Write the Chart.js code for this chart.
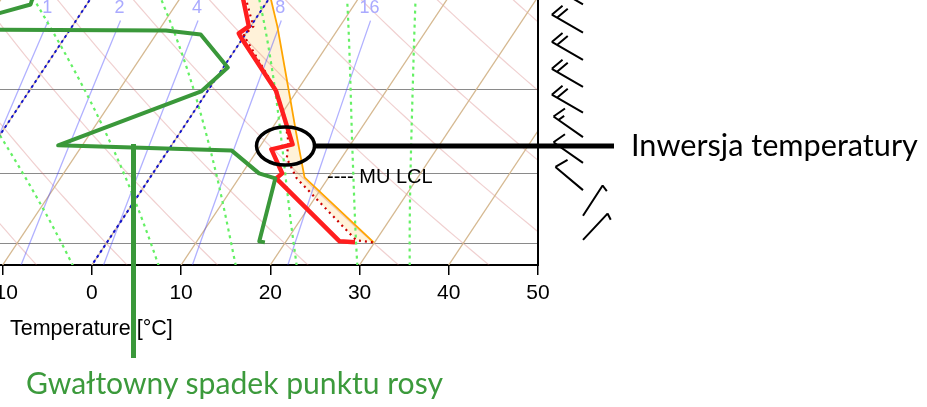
<!DOCTYPE html>
<html lang="pl">
<head>
<meta charset="utf-8">
<title>Skew-T</title>
<script src="https://cdn.jsdelivr.net/npm/chart.js@4/dist/chart.umd.min.js"></script>
<style>
html,body{margin:0;padding:0;background:#ffffff;}
body{width:927px;height:407px;overflow:hidden;position:relative;}
#c{position:absolute;left:0;top:0;}
.note{position:absolute;white-space:nowrap;font-family:'Lato','Open Sans',sans-serif;line-height:1;margin:0;padding:0;}
#inv{color:#000000;}
#dew{color:#3c9a3c;}
</style>
</head>
<body>
<canvas id="c" width="927" height="407"></canvas>
<div class="note" id="inv">Inwersja temperatury</div>
<div class="note" id="dew">Gwałtowny spadek punktu rosy</div>
<script>
// ===================== DATA =====================
const xTickLabels = [-10, 0, 10, 20, 30, 40, 50];          // °C
const isobarLevels = [1000, 850, 700];                      // hPa
const isothermValues = [-30, -20, -10, 0, 10, 20, 30, 40];  // °C
const highlightedIsotherms = [-20, 0];                      // °C
const dryAdiabatTheta = [-10, 0, 10, 20, 30, 40, 50, 60, 70, 80]; // θ in °C
const moistAdiabatThetaW = [-5, 5, 14, 21, 28, 34];         // θw in °C
const mixingRatioValues = [1, 2, 4, 8, 16];                 // g/kg
const mixingRatioLabels = ['1', '2', '4', '8', '16'];

// environmental temperature
const tempPressure = [997.7, 995.4, 860.3, 850.4, 804.4, 795.2, 701.8, 619.3, 615.0, 605.1, 565.0];
const tempValue    = [27.8, 26.0, 14.2, 14.5, 11.5, 13.5, 7.6, -0.4, -0.8, -0.2, -3.1];
// dew point
const dewPressure  = [997.7, 995.4, 860.3, 850.4, 806.3, 797.0, 703.4, 665.4, 616.4, 610.7, 609.3, 575.1, 565.0];
const dewValue     = [17.7, 17.0, 14.1, 11.9, 7.1, -12.7, -0.7, 0.5, -5.0, -9.2, -34.4, -26.3, -26.6];
// environmental virtual temperature (dotted)
const virtPressure = [997.7, 993.1, 860.3, 821.4, 789.7, 741.8, 703.4, 617.8, 605.1, 565.0];
const virtValue    = [29.8, 27.8, 16.5, 13.9, 12.8, 10.3, 7.8, -0.1, 0.3, -2.8];
// most-unstable parcel
const parcelPressure = [997.7, 858.3, 771.6, 714.9, 605.1, 565.0];
const parcelValue    = [29.9, 17.3, 12.9, 9.8, 3.0, 0.0];
const muLclPressure = 858.3;
const inversionPressure = 800;

// winds (direction in degrees, speed in kt)
const windPressure  = [992, 938, 884, 830, 782, 739, 696, 654, 614, 575];
const windDirection = [43, 33, 310, 305, 305, 300, 300, 300, 300, 300];
const windSpeed     = [5, 5, 10, 10, 15, 20, 20, 20, 20, 20];

// ===================== DIAGRAM GEOMETRY =====================
const P_TOP = 569.2, P_BOT = 1051.4, SKEW = 32.2, X_MIN = -10.3, X_MAX = 50;
const skewX = (t, p) => t + SKEW * Math.log(P_BOT / p);
const profile = (ps, ts) => ps.map((p, i) => ({x: skewX(ts[i], p), y: p}));
function pLevels(pHigh, pLow, n) {
  const a = [];
  for (let i = 0; i <= n; i++) a.push(pHigh * Math.pow(pLow / pHigh, i / n));
  return a;
}
function dryAdiabat(theta) {
  return pLevels(1070, 550, 40).map(p => ({x: skewX((theta + 273.15) * Math.pow(p / 1000, 0.2857) - 273.15, p), y: p}));
}
// Wobus function / saturated-adiabat lifting (classic skew-T formulation)
function wobf(t) {
  const x = t - 20;
  if (x <= 0) {
    const pol = 1 + x * (-8.8416605e-03 + x * (1.4714143e-04 + x * (-9.6719890e-07 + x * (-3.2607217e-08 + x * (-3.8598073e-10)))));
    return 15.130 / Math.pow(pol, 4);
  }
  const pol = 1 + x * (3.6182989e-03 + x * (-1.3603273e-05 + x * (4.9618922e-07 + x * (-6.1059365e-09 + x * (3.9401551e-11 + x * (-1.2588129e-13 + x * (1.6688280e-16)))))));
  return 29.930 / Math.pow(pol, 4) + 0.96 * x - 14.8;
}
function satlft(thw, p) {
  if (Math.abs(p - 1000) < 1e-9) return thw;
  const cta = 273.15, akap = 0.28541;
  const pwrp = Math.pow(p / 1000, akap);
  let tone = (thw + cta) * pwrp - cta;
  let eone = wobf(tone) - wobf(thw);
  let rate = 1, ttwo = tone, dlt = 0;
  for (let k = 0; k < 60; k++) {
    ttwo = tone - eone * rate;
    const pt = (ttwo + cta) / pwrp - cta;
    const etwo = pt + wobf(ttwo) - wobf(pt) - thw;
    dlt = etwo * rate;
    if (Math.abs(dlt) < 0.001) break;
    const den = etwo - eone;
    if (den === 0) break;
    rate = (ttwo - tone) / den;
    tone = ttwo; eone = etwo;
  }
  return ttwo - dlt;
}
function moistAdiabat(thw) {
  return pLevels(1070, 545, 40).map(p => ({x: skewX(satlft(thw, p), p), y: p}));
}
function mixTemp(w, p) {
  const e = w * p / (622 + w);
  const l = Math.log(e / 6.112);
  return 243.5 * l / (17.67 - l);
}
const MIX_TOP = 597;
function mixingLine(w) {
  return pLevels(1070, MIX_TOP, 12).map(p => ({x: skewX(mixTemp(w, p), p), y: p}));
}
function isotherm(t) {
  return [{x: skewX(t, 1070), y: 1070}, {x: skewX(t, 540), y: 540}];
}

const line = (data, color, width, dash, extra) => Object.assign({
  data, showLine: true, borderColor: color, borderWidth: width, borderDash: dash || [],
  pointRadius: 0, pointHoverRadius: 0, fill: false, tension: 0,
  borderJoinStyle: 'round', borderCapStyle: 'butt'
}, extra || {});

const GREEN = 'rgb(58,152,58)';
const datasets = [
  line(profile(dewPressure, dewValue), GREEN, 4),
  line(profile(tempPressure, tempValue), 'rgb(255,30,30)', 4.5),
  line(profile(virtPressure, virtValue), 'rgb(205,0,0)', 2.2, [2, 4]),
  line(profile(parcelPressure, parcelValue), 'rgb(255,165,0)', 1.8),
  ...highlightedIsotherms.map(t => line(isotherm(t), 'rgb(20,20,205)', 2, [3, 3])),
  ...moistAdiabatThetaW.map(t => line(moistAdiabat(t), 'rgb(100,240,100)', 2.2, [3, 4])),
  ...mixingRatioValues.map(w => line(mixingLine(w), 'rgba(60,60,255,0.4)', 1.3)),
  ...isothermValues.map(t => line(isotherm(t), 'rgb(214,185,145)', 1.3)),
  ...dryAdiabatTheta.map(th => line(dryAdiabat(th), 'rgba(205,100,100,0.3)', 1.2))
];

function drawBarb(ctx, bx, by, dir, spd) {
  const L = 36, full = 14, sp = 6;
  const r = dir * Math.PI / 180;
  const ux = Math.sin(r), uy = -Math.cos(r);
  const tx = bx + ux * L, ty = by + uy * L;
  const a = 110 * Math.PI / 180;
  const fx = ux * Math.cos(a) - uy * Math.sin(a);
  const fy = ux * Math.sin(a) + uy * Math.cos(a);
  ctx.beginPath();
  ctx.moveTo(bx, by); ctx.lineTo(tx, ty);
  const s = Math.round(spd / 5) * 5;
  const nFull = Math.floor(s / 10), half = (s % 10) >= 5;
  let pos = 0;
  for (let i = 0; i < nFull; i++) {
    const px = tx - ux * pos, py = ty - uy * pos;
    ctx.moveTo(px, py); ctx.lineTo(px + fx * full, py + fy * full);
    pos += sp;
  }
  if (half) {
    const px = tx - ux * pos, py = ty - uy * pos;
    ctx.moveTo(px, py); ctx.lineTo(px + fx * full * 0.5, py + fy * full * 0.5);
  }
  ctx.stroke();
}

const overlay = {
  id: 'overlay',
  beforeDatasetsDraw(chart) {
    const {ctx, chartArea: a, scales: {x, y}} = chart;
    const par = profile(parcelPressure, parcelValue);
    const env = profile(virtPressure, virtValue);
    ctx.save();
    ctx.beginPath(); ctx.rect(a.left, a.top, a.right - a.left, a.bottom - a.top); ctx.clip();
    ctx.beginPath();
    par.forEach((pt, i) => { const X = x.getPixelForValue(pt.x), Y = y.getPixelForValue(pt.y); i ? ctx.lineTo(X, Y) : ctx.moveTo(X, Y); });
    env.slice().reverse().forEach(pt => ctx.lineTo(x.getPixelForValue(pt.x), y.getPixelForValue(pt.y)));
    ctx.closePath();
    ctx.fillStyle = 'rgba(255,165,0,0.15)';
    ctx.fill();
    ctx.restore();
  },
  afterDraw(chart) {
    const {ctx, chartArea: a, scales: {x, y}} = chart;
    ctx.save();
    // right frame
    ctx.strokeStyle = '#000'; ctx.lineWidth = 2;
    ctx.beginPath(); ctx.moveTo(a.right, a.top); ctx.lineTo(a.right, a.bottom + 1); ctx.stroke();
    // mixing ratio labels
    ctx.fillStyle = 'rgb(170,170,255)';
    ctx.font = '18px "Liberation Sans", Arial, sans-serif';
    ctx.textAlign = 'center'; ctx.textBaseline = 'alphabetic';
    mixingRatioValues.forEach((w, i) => {
      const X = x.getPixelForValue(skewX(mixTemp(w, MIX_TOP), MIX_TOP));
      ctx.fillText(mixingRatioLabels[i], X - 1, 13);
    });
    // MU LCL label
    ctx.fillStyle = '#000';
    ctx.font = '20px "Liberation Sans", Arial, sans-serif';
    ctx.textAlign = 'left';
    const lclX = x.getPixelForValue(skewX(17.3, muLclPressure));
    ctx.fillText('---- MU LCL', lclX + 22.5, y.getPixelForValue(muLclPressure) + 5.5);
    // axis title
    ctx.font = '21.5px "Liberation Sans", Arial, sans-serif';
    ctx.fillText('Temperature [\u00B0C]', 10, 335);
    // wind barbs
    ctx.strokeStyle = '#000'; ctx.lineWidth = 2; ctx.lineCap = 'butt';
    windPressure.forEach((p, i) => drawBarb(ctx, a.right + 45, y.getPixelForValue(p), windDirection[i], windSpeed[i]));
    // inversion ellipse + callout line
    const i1 = tempPressure.indexOf(804.4), i2 = tempPressure.indexOf(795.2);
    const cx = (x.getPixelForValue(skewX(tempValue[i1], tempPressure[i1])) + x.getPixelForValue(skewX(tempValue[i2], tempPressure[i2]))) / 2 + 3.5;
    const cy = y.getPixelForValue(inversionPressure) - 1;
    ctx.lineWidth = 3.5;
    ctx.beginPath(); ctx.ellipse(cx, cy, 29, 19, 0, 0, Math.PI * 2); ctx.stroke();
    ctx.lineWidth = 5;
    ctx.beginPath(); ctx.moveTo(cx + 29, cy); ctx.lineTo(614, cy); ctx.stroke();
    // dew-point drop pointer
    ctx.strokeStyle = GREEN; ctx.lineWidth = 5;
    ctx.beginPath(); ctx.moveTo(133.5, y.getPixelForValue(798) - 2); ctx.lineTo(133.5, 358); ctx.stroke();
    ctx.restore();
  }
};

const chart = new Chart(document.getElementById('c'), {
  type: 'scatter',
  data: {datasets},
  options: {
    responsive: false, animation: false, devicePixelRatio: 1,
    layout: {padding: {left: 0, top: 0, right: 389, bottom: 102}},
    plugins: {legend: {display: false}, tooltip: {enabled: false}},
    events: [],
    scales: {
      x: {
        type: 'linear', min: X_MIN, max: X_MAX, position: 'bottom',
        afterBuildTicks: s => { s.ticks = xTickLabels.map(v => ({value: v})); },
        afterFit: s => { s.paddingLeft = 0; s.paddingRight = 0; s.height = 40; },
        grid: {display: true, drawOnChartArea: false, drawTicks: true, tickLength: 10, color: '#000', lineWidth: 1.5},
        border: {display: true, color: '#000', width: 2},
        ticks: {color: '#000', font: {family: '"Liberation Sans", Arial, sans-serif', size: 21}, padding: 6, maxRotation: 0, autoSkip: false}
      },
      y: {
        type: 'logarithmic', reverse: true, min: P_TOP, max: P_BOT, position: 'left',
        afterBuildTicks: s => { s.ticks = isobarLevels.map(v => ({value: v})); },
        afterFit: s => { s.width = 0; },
        grid: {color: '#8a8a8a', lineWidth: 1, drawTicks: false},
        border: {display: false},
        ticks: {display: false}
      }
    }
  },
  plugins: [overlay]
});

function placeNote(el, left, baseline, width) {
  el.style.fontSize = '30px';
  const w0 = el.getBoundingClientRect().width;
  const fs = 30 * width / w0;
  el.style.fontSize = fs + 'px';
  el.style.left = left + 'px';
  el.style.top = (baseline - 0.887 * fs) + 'px';
}
placeNote(document.getElementById('inv'), 631, 157, 287);
placeNote(document.getElementById('dew'), 26, 394, 417);
</script>
</body>
</html>
